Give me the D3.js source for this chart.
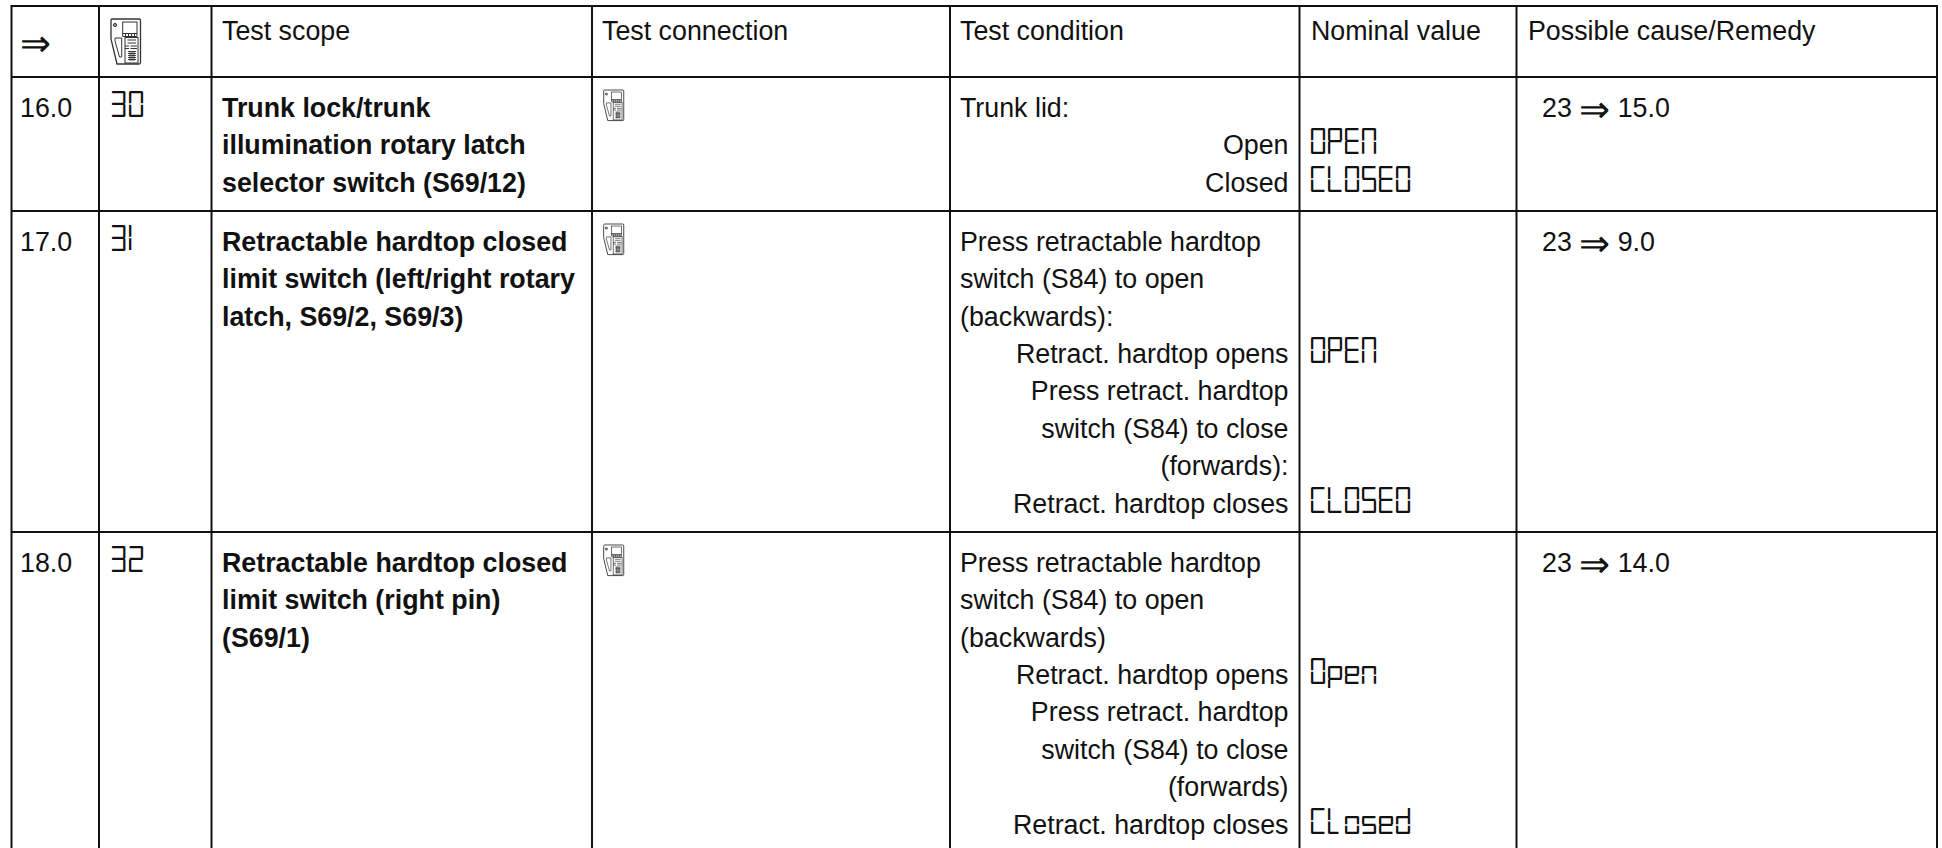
<!DOCTYPE html>
<html>
<head>
<meta charset="utf-8">
<style>
html, body { margin: 0; background: #fff; }
svg { display: block; }
text { font-family: "Liberation Sans", sans-serif; font-size: 26.8px; fill: #111; }
.lcd { font-family: "Lcd7", "DejaVu Sans Mono", monospace; font-size: 26px; }
</style>
<script src="https://cdn.jsdelivr.net/npm/d3@7/dist/d3.min.js"></script>
</head>
<body>
<svg id="chart" width="1942" height="848"></svg>
<script>
const columns = ['step', 'code', 'scope', 'connection', 'condition', 'nominal', 'remedy']
const headers = ['⇒', '', 'Test scope', 'Test connection', 'Test condition', 'Nominal value', 'Possible cause/Remedy']
const steps = ['16.0', '17.0', '18.0']
const codes = ['30', '31', '32']
const scopes = [
    ['Trunk lock/trunk', 'illumination rotary latch', 'selector switch (S69/12)'],
    ['Retractable hardtop closed', 'limit switch (left/right rotary', 'latch, S69/2, S69/3)'],
    ['Retractable hardtop closed', 'limit switch (right pin)', '(S69/1)']
]
const conditions = [
    ['Trunk lid:', 'Open', 'Closed'],
    ['Press retractable hardtop', 'switch (S84) to open', '(backwards):', 'Retract. hardtop opens', 'Press retract. hardtop', 'switch (S84) to close', '(forwards):', 'Retract. hardtop closes'],
    ['Press retractable hardtop', 'switch (S84) to open', '(backwards)', 'Retract. hardtop opens', 'Press retract. hardtop', 'switch (S84) to close', '(forwards)', 'Retract. hardtop closes']
]
// lines from this index on are set flush right
const conditionRightFrom = [1, 3, 3]
const nominals = [
    [[1, 'OPEN'], [2, 'CLOSED']],
    [[3, 'OPEN'], [7, 'CLOSED']],
    [[3, 'Open'], [7, 'Closed']]
]
const remedies = ['23 ⇒ 15.0', '23 ⇒ 9.0', '23 ⇒ 14.0']

// layout
const colEdges = [11.5, 99, 211.5, 592, 950, 1299.5, 1516.5]
const tableRight = 1937
const rowEdges = [77, 211, 532]
const tableTop = 6
const tableBottom = 848
const textX = d3.scaleOrdinal(columns, [20, 112, 222, 602, 960, 1311, 1528])
const rowY = d3.scaleOrdinal(steps, rowEdges)
const lineY = d3.scaleLinear().domain([0, 1]).range([39.7, 77.1])
const remedyX = 1542
const conditionRight = 1288.5

// the display read-outs are a seven segment face, built here into a tiny truetype font
// so they stay normal text
function segFrame(top, mid, bot) {
    const t = 85, w = 540, g = 26
    return {
        a: [g, top - t, w - g, top],
        b: [w - t, mid + g, w, top - g],
        c: [w - t, bot + g, w, mid - g],
        d: [g, bot, w - g, bot + t],
        e: [0, bot + g, t, mid - g],
        f: [0, mid + g, t, top - g],
        g: [g, mid - t / 2, w - g, mid + t / 2]
    }
}
const capF = segFrame(1000, 500, 0)
const lowF = segFrame(680, 340, 0)
const descF = segFrame(680, 200, -180)
const pick = (f, s) => s.split('').map(k => f[k])
const lcdGlyphs = {
    '0': pick(capF, 'abcdef'), '1': pick(capF, 'ef'), '2': pick(capF, 'abdeg'), '3': pick(capF, 'abcdg'),
    'C': pick(capF, 'adef'), 'D': pick(capF, 'abcdef'), 'E': pick(capF, 'adefg'), 'L': pick(capF, 'def'),
    'N': pick(capF, 'abcef'), 'O': pick(capF, 'abcdef'), 'P': pick(capF, 'abefg'), 'S': pick(capF, 'acdfg'),
    'd': pick(lowF, 'abcdef').concat([[455, 680, 540, 1000]]), 'e': pick(lowF, 'abdefg'),
    'l': pick(capF, 'ef').concat([[26, 0, 400, 85]]), 'n': pick(lowF, 'abcef'),
    'o': pick(lowF, 'abcdef'), 'p': pick(descF, 'abefg'), 's': pick(lowF, 'acdfg')
}

function buildLcdFont() {
    const advance = 670
    const u16 = v => [(v >> 8) & 255, v & 255]
    const u32 = v => [(v >>> 24) & 255, (v >> 16) & 255, (v >> 8) & 255, v & 255]
    const many = (...vals) => vals.flatMap(u16)
    const chars = Object.keys(lcdGlyphs).sort((a, b) => a.charCodeAt(0) - b.charCodeAt(0))
    const n = chars.length + 1

    let glyf = [], loca = u32(0)
    chars.forEach(c => {
        const rects = lcdGlyphs[c]
        const ys = rects.flatMap(r => [r[1], r[3]])
        const xs = rects.flatMap(r => [r[0], r[2]])
        let g = many(rects.length, d3.min(xs), d3.min(ys), d3.max(xs), d3.max(ys))
        rects.forEach((r, i) => { g = g.concat(u16(i * 4 + 3)) })
        g = g.concat(u16(0), new Array(rects.length * 4).fill(1))
        const pts = rects.flatMap(r => [[r[0], r[1]], [r[0], r[3]], [r[2], r[3]], [r[2], r[1]]])
        let px = 0, py = 0
        pts.forEach(p => { g = g.concat(u16(p[0] - px)); px = p[0] })
        pts.forEach(p => { g = g.concat(u16(p[1] - py)); py = p[1] })
        while (g.length % 4) g.push(0)
        glyf = glyf.concat(g)
        loca = loca.concat(u32(glyf.length))
    })
    loca = u32(0).concat(loca)

    const codesUsed = chars.map(c => c.charCodeAt(0))
    const segCount = codesUsed.length + 1
    const log = Math.floor(Math.log2(segCount))
    const cmapSub = many(4, 16 + segCount * 8, 0, segCount * 2, 2 << log, log, segCount * 2 - (2 << log))
        .concat(many(...codesUsed, 0xFFFF), many(0), many(...codesUsed, 0xFFFF),
            many(...codesUsed.map((c, i) => (i + 1 - c) & 0xFFFF), 1), many(...new Array(segCount).fill(0)))
    const nameStr = 'Lcd7'.split('').flatMap(c => u16(c.charCodeAt(0)))

    const tables = {
        'OS/2': many(0, advance, 400, 5, 0, 0, 0, 0, 0, 0, 0, 0, 0, 50, 300, 0).concat(new Array(26).fill(0),
            [65, 65, 65, 65], many(64, 48, 115, 1000, -300 & 0xFFFF, 0, 1000, 300)),
        cmap: many(0, 1, 3, 1).concat(u32(12), cmapSub),
        glyf: glyf,
        head: u32(0x00010000).concat(u32(0x00010000), u32(0), u32(0x5F0F3CF5), many(0, 1000), new Array(16).fill(0),
            many(0, -300 & 0xFFFF, 540, 1000, 0, 8, 2, 1, 0)),
        hhea: u32(0x00010000).concat(many(1000, -300 & 0xFFFF, 0, advance, 0, 0, 540, 1, 0, 0, 0, 0, 0, 0, 0, n)),
        hmtx: many(...new Array(n).fill(0).flatMap(() => [advance, 0])),
        loca: loca,
        maxp: u32(0x00010000).concat(many(n, 64, 16, 0, 0, 2, 0, 0, 0, 0, 0, 0, 0, 0)),
        name: many(0, 1, 18, 3, 1, 0x409, 1, nameStr.length, 0).concat(nameStr),
        post: u32(0x00030000).concat(u32(0), many(0, 0), u32(1), u32(0), u32(0), u32(0), u32(0))
    }
    const tags = Object.keys(tables).sort()
    const nt = tags.length
    const lg = Math.floor(Math.log2(nt))
    let head = u32(0x00010000).concat(many(nt, 16 << lg, lg, nt * 16 - (16 << lg)))
    let body = [], offset = 12 + nt * 16
    tags.forEach(tag => {
        const t = tables[tag]
        head = head.concat(tag.split('').map(c => c.charCodeAt(0)), u32(0), u32(offset + body.length), u32(t.length))
        body = body.concat(t)
        while (body.length % 4) body.push(0)
    })
    return new Uint8Array(head.concat(body)).buffer
}

const font = new FontFace('Lcd7', buildLcdFont())
document.fonts.add(font)
font.load().catch(console.error)

const svg = d3.select('#chart')

// the arrow sits larger and lower than the text round it
const arrowSize = 37
function writeArrowText(sel, str, drop) {
    const [before, after] = str.split('⇒')
    sel.text(before)
    sel.append('tspan').attr('dy', drop).style('font-size', arrowSize + 'px').style('font-weight', 300).text('⇒')
    if (after) sel.append('tspan').attr('dy', -drop).text(after)
}

function drawDevice(x, y, s) {
    const g = svg.append('g')
        .attr('transform', `translate(${x},${y}) scale(${s})`)
        .attr('fill', 'none')
        .attr('stroke', '#333')
        .attr('stroke-width', 1)
    g.append('path').attr('stroke-width', 1.3).attr('d', 'M2 0 H29 Q30.5 0 30.5 1.5 V43.5 Q30.5 45 29 45 H7 L1 20 V2 Q1 0 2 0 Z')
    g.append('circle').attr('cx', 5).attr('cy', 6).attr('r', 1.6).attr('fill', '#999')
    g.append('rect').attr('x', 12.7).attr('y', 3).attr('width', 14.3).attr('height', 11.5)
    g.append('path').attr('d', 'M12.7 14.5 H27 V17.5 H12.7 Z M15.5 14.5 V17.5 M18.5 14.5 V17.5 M21.5 14.5 V17.5 M24.5 14.5 V17.5')
    g.append('rect').attr('x', 15).attr('y', 18.5).attr('width', 13).attr('height', 25.5)
    g.append('path').attr('d', 'M5 19 H11.7 V38 H9.5 L5 22 Z')
    g.append('path').attr('d', 'M17.5 21 H26 M17.5 24 H26 M15 27 H19 M20.5 27 H27 M15 29.5 H19 M20.5 29.5 H27')
    g.append('path').attr('stroke-width', 0.9).attr('d', 'M18 32.5 H26 M18 34.5 H26 M18 36.5 H26 M18 38.5 H26 M18 40.5 H26 M20 32 V42 M22 32 V42 M24 32 V42')
}

// grid
const grid = svg.append('g').attr('stroke', '#111').attr('stroke-width', 2)
grid.selectAll('line.v')
    .data(colEdges.concat([tableRight]))
    .enter()
    .append('line')
    .attr('class', 'v')
    .attr('x1', d => d)
    .attr('x2', d => d)
    .attr('y1', tableTop - 1)
    .attr('y2', tableBottom)
grid.selectAll('line.h')
    .data([tableTop].concat(rowEdges))
    .enter()
    .append('line')
    .attr('class', 'h')
    .attr('x1', colEdges[0])
    .attr('x2', tableRight)
    .attr('y1', d => d)
    .attr('y2', d => d)

// header row, the second column only has the device picture
columns.forEach((col, i) => {
    if (!headers[i]) return
    const t = svg.append('text').attr('x', textX(col)).attr('y', 39.5)
    if (headers[i].includes('⇒')) writeArrowText(t, headers[i], 16)
    else t.text(headers[i])
})

drawDevice(110, 19, 1)

// body rows
steps.forEach((step, r) => {
    const top = rowY(step)
    const y = i => top + lineY(i)
    const row = svg.append('g').attr('class', 'row')

    row.append('text').attr('x', textX('step')).attr('y', y(0)).text(step)
    row.append('text').attr('class', 'lcd').attr('x', textX('code')).attr('y', y(0)).text(codes[r])

    row.selectAll('text.scope')
        .data(scopes[r])
        .enter()
        .append('text')
        .attr('class', 'scope')
        .attr('x', textX('scope'))
        .attr('y', (d, i) => y(i))
        .style('font-weight', 'bold')
        .text(d => d)

    drawDevice(603, top + 13, 0.68)

    row.selectAll('text.cond')
        .data(conditions[r])
        .enter()
        .append('text')
        .attr('class', 'cond')
        .attr('x', (d, i) => i >= conditionRightFrom[r] ? conditionRight : textX('condition'))
        .attr('y', (d, i) => y(i))
        .attr('text-anchor', (d, i) => i >= conditionRightFrom[r] ? 'end' : 'start')
        .text(d => d)

    row.selectAll('text.lcdnom')
        .data(nominals[r])
        .enter()
        .append('text')
        .attr('class', 'lcd lcdnom')
        .attr('x', textX('nominal'))
        .attr('y', d => y(d[0]))
        .text(d => d[1])

    const remedy = row.append('text').attr('x', remedyX).attr('y', y(0))
    writeArrowText(remedy, remedies[r], 5)
})
</script>
</body>
</html>
